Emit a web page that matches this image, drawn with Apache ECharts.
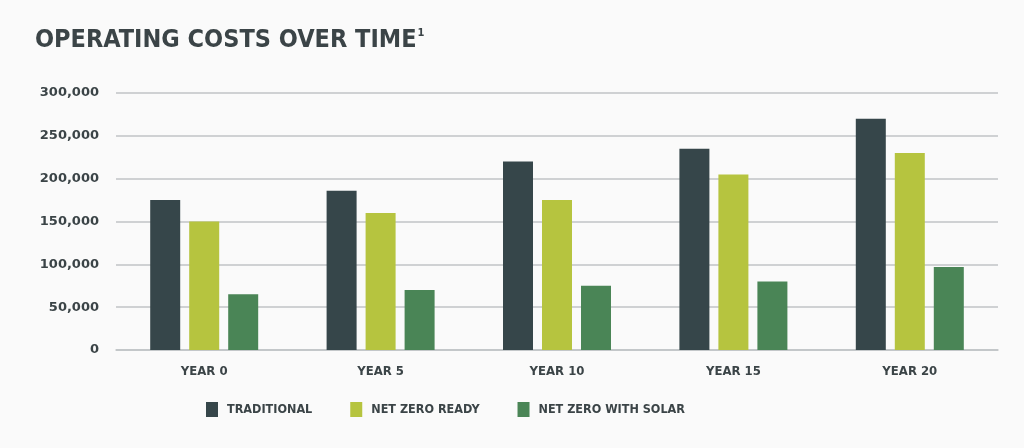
<!DOCTYPE html>
<html>
<head>
<meta charset="utf-8">
<script src="https://cdn.jsdelivr.net/npm/echarts@6/dist/echarts.min.js"></script>
<style>
  html, body { margin: 0; padding: 0; background: #fafafa; }
  #chart { width: 1024px; height: 448px; }
</style>
</head>
<body>
<div id="chart"></div>
<script>
  // operating costs
  var years = ["YEAR 0", "YEAR 5", "YEAR 10", "YEAR 15", "YEAR 20"];
  var traditional = [175000, 186000, 220000, 235000, 270000];
  var netZeroReady = [150000, 160000, 175000, 205000, 230000];
  var netZeroSolar = [65000, 70000, 75000, 80000, 97000];
  var seriesNames = ["TRADITIONAL", "NET ZERO READY", "NET ZERO WITH SOLAR"];
  var colors = ["#36464a", "#b6c43f", "#4a8556"];

  var FONT = "'DejaVu Sans Condensed', 'Liberation Sans Narrow', Roboto, sans-serif";
  var NUM_FONT = "'DejaVu Sans', Roboto, sans-serif";
  var TEXT = "#3b4447";

  var chart = echarts.init(document.getElementById("chart"), null, { renderer: "canvas" });

  function barSeries(name, data, color) {
    return {
      name: name,
      type: "bar",
      data: data,
      barWidth: 30,
      barGap: "30%",
      itemStyle: { color: color },
      silent: true
    };
  }

  chart.setOption({
    backgroundColor: "#fafafa",
    animation: false,
    color: colors,
    title: {
      text: "OPERATING COSTS OVER TIME{s|1}",
      left: 30,
      top: 23,
      textStyle: {
        fontFamily: FONT,
        fontSize: 25,
        fontWeight: "bold",
        color: TEXT,
        rich: {
          s: { fontFamily: FONT, fontSize: 11, fontWeight: "bold", color: TEXT, verticalAlign: "top", padding: [0, 0, 12, 1] }
        }
      }
    },
    grid: { left: 116, right: 26, top: 93, bottom: 98, containLabel: false },
    xAxis: {
      type: "category",
      data: years,
      axisLine: { show: true, lineStyle: { color: "#c0c3c6", width: 1.5 } },
      axisTick: { show: false },
      axisLabel: {
        margin: 15,
        fontFamily: FONT,
        fontSize: 13,
        fontWeight: "bold",
        color: TEXT
      }
    },
    yAxis: {
      type: "value",
      min: 0,
      max: 300000,
      interval: 50000,
      axisLine: { show: false },
      axisTick: { show: false },
      splitLine: { lineStyle: { color: "#c0c3c6", width: 1.5 } },
      axisLabel: {
        margin: 17,
        fontFamily: NUM_FONT,
        fontSize: 13,
        fontWeight: "bold",
        color: TEXT,
        formatter: function (v) { return v.toLocaleString("en-US"); }
      }
    },
    legend: {
      top: 402,
      left: 206,
      padding: 0,
      itemWidth: 12,
      itemHeight: 15,
      itemGap: 38,
      icon: "rect",
      textStyle: {
        fontFamily: FONT,
        fontSize: 12.5,
        fontWeight: "bold",
        color: TEXT,
        padding: [0, 0, 0, 4]
      },
      data: seriesNames
    },
    series: [
      barSeries(seriesNames[0], traditional, colors[0]),
      barSeries(seriesNames[1], netZeroReady, colors[1]),
      barSeries(seriesNames[2], netZeroSolar, colors[2])
    ]
  });
</script>
</body>
</html>
